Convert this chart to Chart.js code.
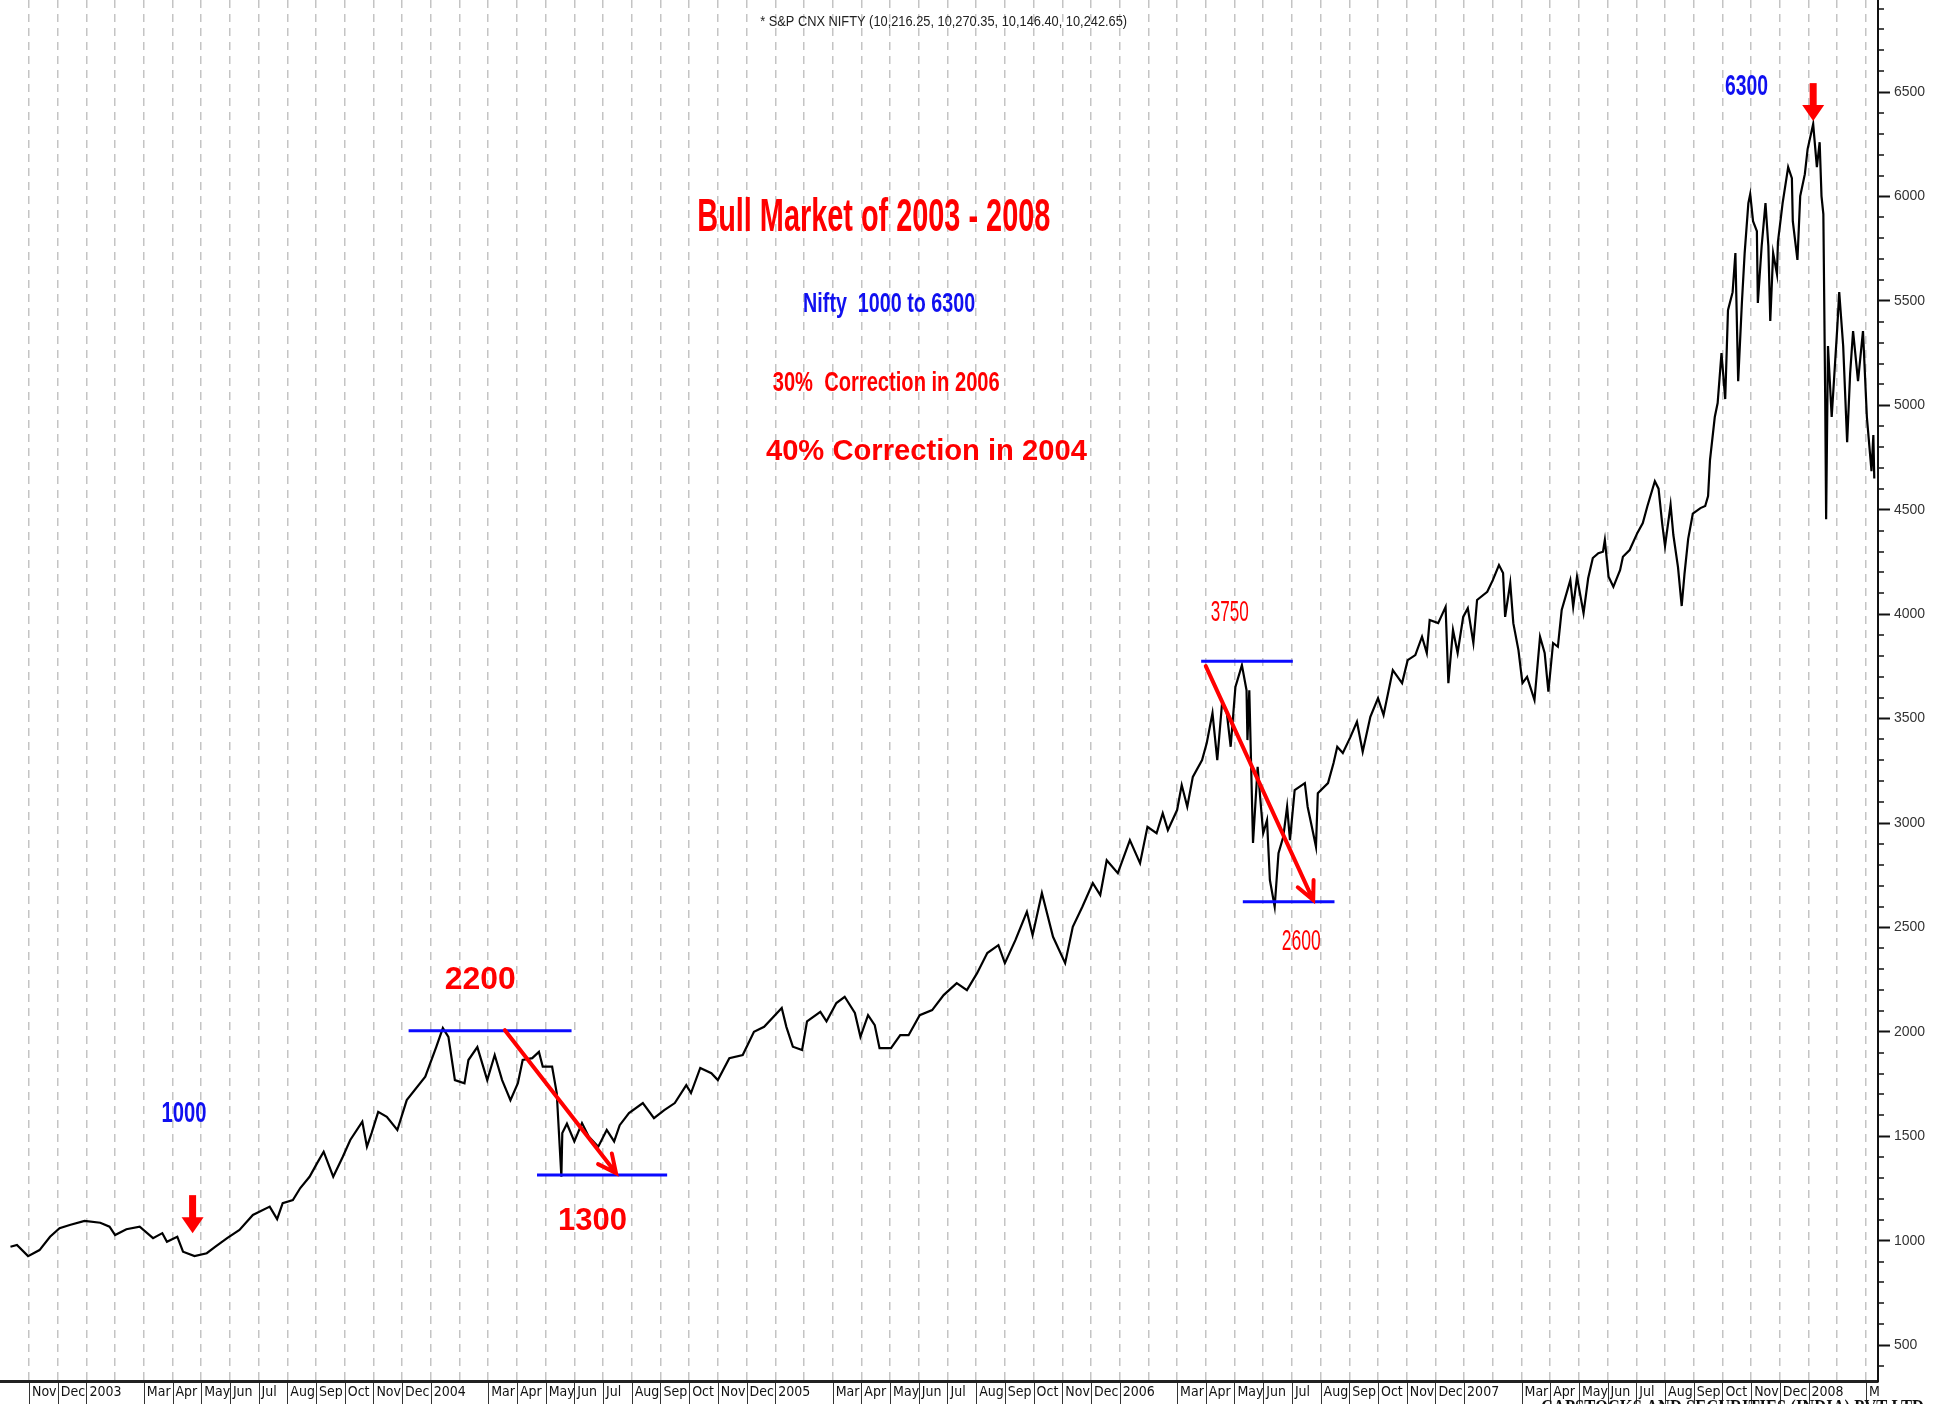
<!DOCTYPE html>
<html>
<head>
<meta charset="utf-8">
<title>Nifty - Bull Market of 2003 - 2008</title>
<script src="https://cdn.jsdelivr.net/npm/chart.js@4.4.1/dist/chart.umd.min.js"></script>
<style>
  html, body { margin: 0; padding: 0; background: #fff; }
  #wrap { width: 1948px; height: 1404px; }
</style>
</head>
<body>
<div id="wrap"><canvas id="niftyChart" width="1948" height="1404"></canvas></div>
<script>
// S&P CNX Nifty (approximate)
const dates = [
  '2002-10-12', '2002-10-19', '2002-10-31', '2002-11-12', '2002-11-23', '2002-12-03', '2002-12-14', '2002-12-30',
  '2003-01-16', '2003-01-26', '2003-02-01', '2003-02-12', '2003-02-25', '2003-03-11', '2003-03-21', '2003-03-26',
  '2003-04-06', '2003-04-12', '2003-04-24', '2003-05-07', '2003-05-16', '2003-05-29', '2003-06-11', '2003-06-25',
  '2003-07-13', '2003-07-21', '2003-07-27', '2003-08-07', '2003-08-15', '2003-08-25', '2003-09-02', '2003-09-09',
  '2003-09-19', '2003-09-29', '2003-10-07', '2003-10-20', '2003-10-25', '2003-10-30', '2003-11-06', '2003-11-15',
  '2003-11-26', '2003-12-06', '2003-12-26', '2004-01-07', '2004-01-14', '2004-01-20', '2004-01-27', '2004-02-06',
  '2004-02-10', '2004-02-19', '2004-02-29', '2004-03-08', '2004-03-16', '2004-03-25', '2004-04-02', '2004-04-07',
  '2004-04-17', '2004-04-24', '2004-04-28', '2004-05-08', '2004-05-13', '2004-05-18', '2004-05-19', '2004-05-24',
  '2004-06-01', '2004-06-09', '2004-06-16', '2004-06-26', '2004-07-05', '2004-07-13', '2004-07-19', '2004-07-29',
  '2004-08-13', '2004-08-25', '2004-09-05', '2004-09-16', '2004-09-28', '2004-10-03', '2004-10-13', '2004-10-25',
  '2004-11-01', '2004-11-13', '2004-11-27', '2004-12-09', '2004-12-20', '2005-01-08', '2005-01-13', '2005-01-20',
  '2005-01-30', '2005-02-04', '2005-02-17', '2005-02-23', '2005-03-05', '2005-03-14', '2005-03-25', '2005-03-31',
  '2005-04-08', '2005-04-15', '2005-04-20', '2005-05-02', '2005-05-12', '2005-05-21', '2005-06-02', '2005-06-15',
  '2005-06-27', '2005-07-11', '2005-07-22', '2005-08-02', '2005-08-13', '2005-08-25', '2005-09-01', '2005-09-12',
  '2005-09-24', '2005-09-30', '2005-10-10', '2005-10-22', '2005-11-04', '2005-11-12', '2005-11-22', '2005-12-03',
  '2005-12-11', '2005-12-18', '2005-12-30', '2006-01-12', '2006-01-23', '2006-01-31', '2006-02-09', '2006-02-15',
  '2006-02-20', '2006-03-01', '2006-03-06', '2006-03-12', '2006-03-18', '2006-03-28', '2006-04-02', '2006-04-08',
  '2006-04-13', '2006-04-18', '2006-04-23', '2006-04-27', '2006-05-02', '2006-05-09', '2006-05-14', '2006-05-15',
  '2006-05-17', '2006-05-21', '2006-05-26', '2006-06-01', '2006-06-05', '2006-06-08', '2006-06-13', '2006-06-17',
  '2006-06-22', '2006-06-26', '2006-06-29', '2006-07-04', '2006-07-15', '2006-07-18', '2006-07-24', '2006-07-27',
  '2006-07-29', '2006-08-09', '2006-08-15', '2006-08-19', '2006-08-25', '2006-09-02', '2006-09-09', '2006-09-15',
  '2006-09-23', '2006-10-01', '2006-10-07', '2006-10-17', '2006-10-27', '2006-11-02', '2006-11-10', '2006-11-17',
  '2006-11-22', '2006-11-25', '2006-12-04', '2006-12-12', '2006-12-15', '2006-12-20', '2006-12-25', '2006-12-31',
  '2007-01-05', '2007-01-11', '2007-01-15', '2007-01-26', '2007-02-01', '2007-02-07', '2007-02-11', '2007-02-13',
  '2007-02-18', '2007-02-21', '2007-02-26', '2007-03-02', '2007-03-07', '2007-03-15', '2007-03-21', '2007-03-26',
  '2007-03-30', '2007-04-04', '2007-04-09', '2007-04-13', '2007-04-22', '2007-04-25', '2007-04-29', '2007-05-06',
  '2007-05-11', '2007-05-16', '2007-05-22', '2007-05-27', '2007-05-29', '2007-06-02', '2007-06-07', '2007-06-14',
  '2007-06-17', '2007-06-24', '2007-07-02', '2007-07-08', '2007-07-13', '2007-07-21', '2007-07-25', '2007-07-29',
  '2007-08-01', '2007-08-07', '2007-08-10', '2007-08-15', '2007-08-19', '2007-08-22', '2007-08-26', '2007-08-31',
  '2007-09-08', '2007-09-13', '2007-09-16', '2007-09-18', '2007-09-23', '2007-09-26', '2007-09-30', '2007-10-04',
  '2007-10-07', '2007-10-12', '2007-10-15', '2007-10-18', '2007-10-22', '2007-10-25', '2007-10-29', '2007-10-31',
  '2007-11-03', '2007-11-07', '2007-11-08', '2007-11-12', '2007-11-16', '2007-11-19', '2007-11-21', '2007-11-24',
  '2007-11-28', '2007-11-29', '2007-12-04', '2007-12-10', '2007-12-14', '2007-12-15', '2007-12-20', '2007-12-23',
  '2007-12-28', '2007-12-31', '2008-01-06', '2008-01-10', '2008-01-13', '2008-01-15', '2008-01-17', '2008-01-19',
  '2008-01-20', '2008-01-22', '2008-01-26', '2008-02-01', '2008-02-03', '2008-02-07', '2008-02-11', '2008-02-14',
  '2008-02-17', '2008-02-22', '2008-02-27', '2008-03-02', '2008-03-07', '2008-03-09', '2008-03-10'
];
const closes = [
  971, 979, 926, 955, 1019, 1060, 1075, 1095,
  1086, 1067, 1027, 1055, 1067, 1012, 1036, 995,
  1019, 947, 926, 940, 970, 1012, 1051, 1123,
  1163, 1103, 1180, 1194, 1252, 1306, 1370, 1426,
  1306, 1402, 1482, 1570, 1450, 1515, 1617, 1593,
  1530, 1673, 1785, 1929, 2018, 1976, 1769, 1754,
  1865, 1927, 1769, 1889, 1769, 1673, 1754, 1865,
  1874, 1904, 1833, 1833, 1707, 1306, 1515, 1560,
  1475, 1563, 1499, 1450, 1530, 1475, 1553, 1611,
  1659, 1587, 1625, 1659, 1745, 1707, 1827, 1802,
  1769, 1874, 1889, 2000, 2024, 2114, 2024, 1929,
  1913, 2050, 2096, 2050, 2138, 2168, 2090, 1976,
  2080, 2032, 1922, 1922, 1984, 1984, 2080, 2104,
  2176, 2233, 2200, 2281, 2377, 2415, 2329, 2439,
  2575, 2463, 2665, 2455, 2329, 2503, 2599, 2712,
  2655, 2822, 2760, 2918, 2808, 2982, 2951, 3047,
  2966, 3062, 3182, 3078, 3221, 3301, 3383, 3526,
  3301, 3574, 3526, 3365, 3652, 3756, 3636, 3397,
  3636, 2904, 3269, 2951, 3014, 2727, 2599, 2856,
  2934, 3078, 2918, 3158, 3191, 3078, 2951, 2886,
  3143, 3191, 3287, 3365, 3335, 3410, 3485, 3341,
  3509, 3598, 3517, 3732, 3670, 3780, 3804, 3892,
  3814, 3972, 3957, 4035, 3670, 3924, 3814, 3987,
  4029, 3862, 4068, 4107, 4163, 4235, 4197, 3987,
  4149, 3957, 3828, 3670, 3700, 3589, 3892, 3814,
  3629, 3862, 3844, 4020, 4163, 4035, 4179, 4005,
  4172, 4269, 4292, 4299, 4355, 4179, 4131, 4211,
  4275, 4307, 4388, 4436, 4518, 4637, 4601, 4431,
  4326, 4524, 4379, 4225, 4039, 4192, 4361, 4481,
  4508, 4518, 4565, 4738, 4944, 5011, 5250, 5030,
  5456, 5542, 5729, 5116, 5490, 5729, 5968, 6011,
  5882, 5834, 5490, 5763, 5968, 5763, 5404, 5729,
  5629, 5782, 5968, 6141, 6088, 5882, 5696, 6002,
  6107, 6227, 6347, 6141, 6260, 6002, 5916, 5030,
  4455, 5284, 4944, 5370, 5542, 5284, 4824, 5150,
  5356, 5116, 5356, 4944, 4685, 4858, 4650
];

// price axis labels
const yTicks = [500, 1000, 1500, 2000, 2500, 3000, 3500, 4000, 4500, 5000, 5500, 6000, 6500];
// date axis: January shows the year, February is left blank
const monthNames = ['Jan', 'Feb', 'Mar', 'Apr', 'May', 'Jun', 'Jul', 'Aug', 'Sep', 'Oct', 'Nov', 'Dec'];
const firstMonth = 0;   // Nov 2002
const lastMonth = 64;   // Mar 2008

// month position counted from 1 Nov 2002
function monthPos(d) {
  const [y, m, day] = d.split('-').map(Number);
  const daysIn = new Date(y, m, 0).getDate();
  return (y - 2002) * 12 + (m - 11) + (day - 1) / daysIn;
}

function monthLabel(idx) {
  const year = 2002 + Math.floor((idx + 10) / 12);
  const mi = (idx + 10) % 12;
  if (mi === 1) return '';
  const txt = mi === 0 ? String(year) : monthNames[mi];
  // the last label is cut off by the price axis
  return idx === lastMonth ? txt.charAt(0) : txt;
}

// annotations, placed in data coordinates
const RED = '#ff0000';
const BLUE = '#1010f0';
const SANS = "'Liberation Sans', Arial, sans-serif";

const texts = [
  { text: '* S&P CNX NIFTY (10,216.25, 10,270.35, 10,146.40, 10,242.65)', date: '2005-06-27', value: 6835, size: 14, weight: 'normal', width: 367, color: '#222' },
  { text: 'Bull Market of 2003 - 2008', date: '2005-04-14', value: 5897, size: 46, weight: 'bold', width: 353, color: RED },
  { text: 'Nifty  1000 to 6300', date: '2005-04-30', value: 5485, size: 28, weight: 'bold', width: 172, color: BLUE },
  { text: '30%  Correction in 2006', date: '2005-04-27', value: 5107, size: 28, weight: 'bold', width: 227, color: RED },
  { text: '40% Correction in 2004', date: '2005-06-09', value: 4776, size: 29, weight: 'bold', width: 321, color: RED },
  { text: '1000', date: '2003-04-13', value: 1606, size: 30, weight: 'bold', width: 45, color: BLUE },
  { text: '2200', date: '2004-02-22', value: 2248, size: 32, weight: 'bold', width: 71, color: RED },
  { text: '1300', date: '2004-06-20', value: 1094, size: 32, weight: 'bold', width: 69, color: RED },
  { text: '3750', date: '2006-04-26', value: 4005, size: 29, weight: 'normal', width: 38, color: RED },
  { text: '2600', date: '2006-07-11', value: 2430, size: 29, weight: 'normal', width: 39, color: RED },
  { text: '6300', date: '2007-10-27', value: 6524, size: 29, weight: 'bold', width: 43, color: BLUE }
];

const levels = [
  { from: '2003-12-08', to: '2004-05-29', value: 2005 },
  { from: '2004-04-22', to: '2004-09-08', value: 1314 },
  { from: '2006-03-27', to: '2006-07-02', value: 3775 },
  { from: '2006-05-10', to: '2006-08-16', value: 2623 }
];

const falls = [
  { from: ['2004-03-19', 2008], to: ['2004-07-15', 1324] },
  { from: ['2006-04-01', 3751], to: ['2006-07-24', 2631] }
];

const markers = [
  { date: '2003-04-22', value: 1036 },
  { date: '2008-01-06', value: 6361 }
];

function drawText(ctx, t, x, y) {
  ctx.save();
  ctx.font = t.weight + ' ' + t.size + 'px ' + SANS;
  ctx.fillStyle = t.color;
  ctx.textAlign = 'center';
  ctx.textBaseline = 'middle';
  const w = ctx.measureText(t.text).width;
  ctx.translate(x, y);
  ctx.scale(t.width / w, 1);
  ctx.fillText(t.text, 0, 0);
  ctx.restore();
}

const annotations = {
  id: 'annotations',
  afterDatasetsDraw(chart) {
    const { ctx, scales: { x, y } } = chart;
    ctx.save();

    // support / resistance lines
    ctx.strokeStyle = '#0a0aff';
    ctx.lineWidth = 3;
    levels.forEach(l => {
      const py = y.getPixelForValue(l.value);
      ctx.beginPath();
      ctx.moveTo(x.getPixelForValue(monthPos(l.from)), py);
      ctx.lineTo(x.getPixelForValue(monthPos(l.to)), py);
      ctx.stroke();
    });

    // red correction arrows
    ctx.strokeStyle = RED;
    ctx.lineWidth = 4;
    ctx.lineCap = 'round';
    falls.forEach(f => {
      const x1 = x.getPixelForValue(monthPos(f.from[0])), y1 = y.getPixelForValue(f.from[1]);
      const x2 = x.getPixelForValue(monthPos(f.to[0])), y2 = y.getPixelForValue(f.to[1]);
      const a = Math.atan2(y2 - y1, x2 - x1);
      ctx.beginPath();
      ctx.moveTo(x1, y1);
      ctx.lineTo(x2, y2);
      ctx.moveTo(x2 - 20 * Math.cos(a - 0.45), y2 - 20 * Math.sin(a - 0.45));
      ctx.lineTo(x2, y2);
      ctx.lineTo(x2 - 20 * Math.cos(a + 0.45), y2 - 20 * Math.sin(a + 0.45));
      ctx.stroke();
    });

    // block arrows pointing at the low and the top
    ctx.fillStyle = RED;
    markers.forEach(m => {
      const px = x.getPixelForValue(monthPos(m.date));
      const py = y.getPixelForValue(m.value);
      ctx.fillRect(px - 3.5, py - 38, 7, 23);
      ctx.beginPath();
      ctx.moveTo(px - 11, py - 16);
      ctx.lineTo(px + 11, py - 16);
      ctx.lineTo(px, py);
      ctx.closePath();
      ctx.fill();
    });
    ctx.restore();

    texts.forEach(t => drawText(ctx, t, x.getPixelForValue(monthPos(t.date)), y.getPixelForValue(t.value)));
  },
  afterDraw(chart) {
    const { ctx, chartArea, scales: { x, y } } = chart;
    ctx.save();
    // minor ticks on the price axis, every 100
    ctx.strokeStyle = '#111';
    ctx.lineWidth = 1.5;
    for (let v = Math.ceil(y.min / 100) * 100; v <= y.max; v += 100) {
      if (v % 500 === 0) continue;
      const py = Math.round(y.getPixelForValue(v));
      ctx.beginPath();
      ctx.moveTo(chartArea.right, py);
      ctx.lineTo(chartArea.right + 6, py);
      ctx.stroke();
    }
    // box separators for the month labels
    ctx.strokeStyle = '#333';
    ctx.lineWidth = 1;
    x.ticks.forEach(t => {
      if (!monthLabel(t.value)) return;
      const px = Math.round(x.getPixelForValue(t.value)) + 0.5;
      ctx.beginPath();
      ctx.moveTo(px, chartArea.bottom + 2);
      ctx.lineTo(px, chart.height);
      ctx.stroke();
    });
    // vendor footer, mostly below the picture
    ctx.font = "bold 22px 'Liberation Serif', 'Times New Roman', serif";
    ctx.fillStyle = '#111';
    ctx.textAlign = 'left';
    ctx.textBaseline = 'top';
    const footer = 'CAPSTOCKS AND SECURITIES (INDIA) PVT LTD';
    const fw = ctx.measureText(footer).width;
    ctx.translate(1541, chart.height - 7);
    ctx.scale(383 / fw, 1);
    ctx.fillText(footer, 0, 0);
    ctx.restore();
  }
};

const niftyChart = new Chart(document.getElementById('niftyChart'), {
  type: 'line',
  data: {
    datasets: [{
      label: 'S&P CNX NIFTY',
      data: dates.map((d, i) => ({ x: monthPos(d), y: closes[i] })),
      borderColor: '#000',
      borderWidth: 2.2,
      pointRadius: 0,
      tension: 0
    }]
  },
  options: {
    responsive: false,
    animation: false,
    devicePixelRatio: 1,
    parsing: false,
    layout: { padding: 0 },
    plugins: {
      legend: { display: false },
      tooltip: { enabled: false }
    },
    scales: {
      x: {
        type: 'linear',
        min: -1.01,
        max: 64.42,
        afterBuildTicks: (scale) => {
          const ticks = [];
          for (let m = firstMonth; m <= lastMonth; m++) ticks.push({ value: m });
          scale.ticks = ticks;
        },
        afterFit: (scale) => {
          scale.height = 23;
          scale.paddingLeft = 0;
          scale.paddingRight = 0;
        },
        grid: { color: '#c4c4c4', lineWidth: 1.5, drawTicks: false },
        border: { color: '#222', width: 3, dash: [8, 6] },
        ticks: {
          autoSkip: false,
          maxRotation: 0,
          align: 'start',
          labelOffset: 3,
          padding: 3,
          color: '#111',
          font: { family: "'Liberation Sans Narrow', 'DejaVu Sans Condensed', 'Liberation Sans', sans-serif", size: 14 },
          callback: (value) => monthLabel(value)
        }
      },
      y: {
        position: 'right',
        min: 328,
        max: 6941,
        afterBuildTicks: (scale) => {
          scale.ticks = yTicks.map(v => ({ value: v }));
        },
        afterFit: (scale) => {
          scale.width = 70;
          scale.paddingTop = 0;
          scale.paddingBottom = 0;
        },
        grid: { drawOnChartArea: false, drawTicks: true, tickLength: 12, tickColor: '#111', tickWidth: 2 },
        border: { color: '#111', width: 2 },
        ticks: {
          padding: 4,
          color: '#333',
          font: { family: SANS, size: 14 },
          callback: (value) => String(value)
        }
      }
    }
  },
  plugins: [annotations]
});
</script>
</body>
</html>
